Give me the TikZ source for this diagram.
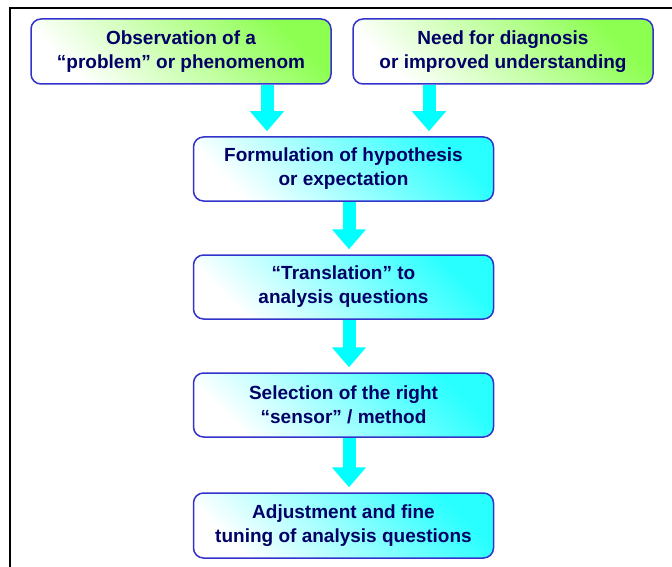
\documentclass[tikz,border=0pt]{standalone}
\usepackage{fontspec}
\setmainfont{Liberation Sans}
\usepackage{xcolor}
\definecolor{flnavy}{RGB}{0,0,102}
\definecolor{flborder}{RGB}{51,51,204}
\definecolor{flgreen}{RGB}{140,255,80}
\definecolor{flcyan}{RGB}{40,255,255}
\definecolor{flarrow}{RGB}{0,255,255}
\usetikzlibrary{arrows.meta,positioning,shapes.geometric,calc}
\tikzset{
  flbox/.style={draw=flborder, line width=1.5pt, rounded corners=10pt,
    minimum width=300pt, minimum height=65pt, align=center, text=flnavy,
    font=\fontsize{19}{24}\selectfont\bfseries},
  greenbox/.style={flbox, left color=white, right color=flgreen, shading angle=135},
  cyanbox/.style={flbox, left color=white, right color=flcyan, shading angle=135},
  flow/.style={flarrow, line width=13pt, shorten >=5pt,
    -{Triangle[width=33pt,length=20pt]}}
}

\begin{document}
\begin{tikzpicture}[x=1pt, y=-1pt]
  \useasboundingbox (0,0) rectangle (672,567);

  % Frame
  \draw[line width=1.8pt] (10,567) -- (10,8) -- (672,8);

  % Starting points
  \node[greenbox] (obs) at (181,51.5) {Observation of a\\``problem'' or phenomenom};
  \node[greenbox] (need) at (503,51.5) {Need for diagnosis\\or improved understanding};

  % Steps
  \node[cyanbox, minimum height=64pt] (form) at (343.5,169) {Formulation of hypothesis\\or expectation};
  \node[cyanbox, minimum height=64pt] (trans) at (343.5,287) {``Translation'' to\\analysis questions};
  \node[cyanbox, minimum height=64pt] (sel) at (343.5,405) {Selection of the right\\``sensor'' / method};
  \node[cyanbox] (adj) at (343.5,525.5) {Adjustment and fine\\tuning of analysis questions};

  % Arrows
  \draw[flow] ([xshift=86pt]obs.south) -- ([xshift=-76.5pt]form.north);
  \draw[flow] ([xshift=-74pt]need.south) -- ([xshift=85.5pt]form.north);
  \draw[flow] ([xshift=5.5pt]form.south) -- ([xshift=5.5pt]trans.north);
  \draw[flow] ([xshift=5.5pt]trans.south) -- ([xshift=5.5pt]sel.north);
  \draw[flow] ([xshift=5.5pt]sel.south) -- ([xshift=5.5pt]adj.north);
\end{tikzpicture}
\end{document}
